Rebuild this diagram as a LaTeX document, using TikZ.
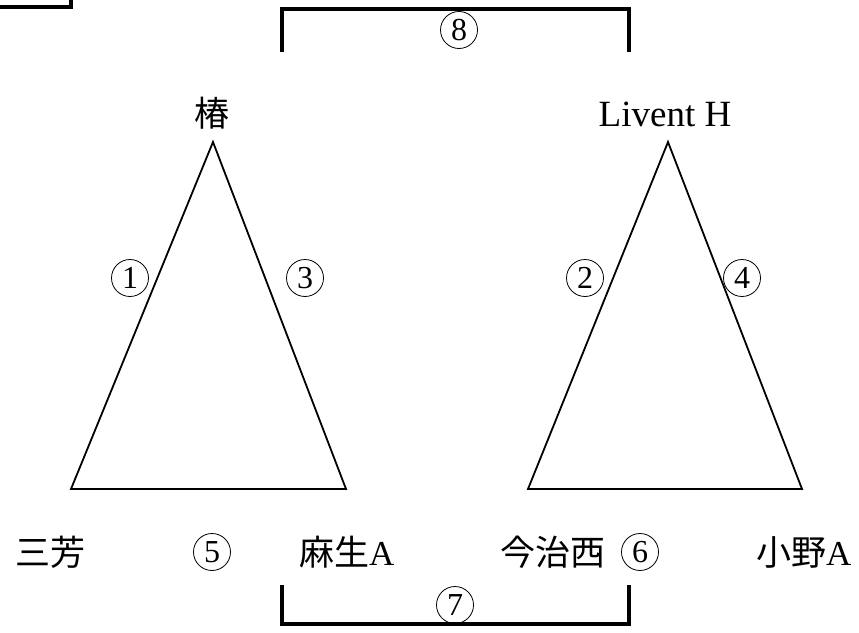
\documentclass[tikz,border=0pt]{standalone}
\usepackage{fontspec}
\setmainfont{Liberation Serif}
\newfontfamily\cjk{Noto Sans CJK JP}
\begin{document}
\begin{tikzpicture}[x=1pt,y=-1pt,
  lab/.style={inner sep=0pt,font=\fontsize{37}{40}\selectfont},
  jlab/.style={inner sep=0pt,font=\cjk\fontsize{35}{38}\selectfont},
  cnum/.style={circle,draw,line width=0.8pt,minimum size=37pt,inner sep=0pt,
    font=\fontsize{32}{34}\selectfont},
  tri/.style={line width=1.8pt,line join=miter},
  brk/.style={line width=3.2pt}]
\useasboundingbox (0,0) rectangle (859,632);
% partial box in corner
\draw[brk] (0,7) -- (71,7) -- (71,-2);
% left triangle
\coordinate (A) at (213,142);
\coordinate (B) at (71,489);
\coordinate (C) at (346,489);
\draw[tri] (A) -- (B) -- (C) -- cycle;
% right triangle
\coordinate (D) at (668,142);
\coordinate (E) at (528,489);
\coordinate (F) at (802,489);
\draw[tri] (D) -- (E) -- (F) -- cycle;
% labels
\node[jlab] (tsubaki) at (212,113) {椿};
\node[lab] (livent) at (665,114) {Livent H};
\node[cnum] (n1) at (130,278) {1};
\node[cnum] (n3) at (305,278) {3};
\node[cnum] (n2) at (585,278) {2};
\node[cnum] (n4) at (742,278) {4};
\node[jlab] (miyoshi) at (50,552) {三芳};
\node[cnum] (n5) at (212,552) {5};
\node[jlab,anchor=west] (aso) at (299,552) {麻生\fontspec{Liberation Serif}A};
\node[jlab] (imabari) at (553,552) {今治西};
\node[cnum] (n6) at (640,552) {6};
\node[jlab,anchor=west] (ono) at (756,552) {小野\fontspec{Liberation Serif}A};
\node[cnum] (n8) at (459,30) {8};
\node[cnum] (n7) at (455,605) {7};
% brackets
\coordinate (t1) at (282,52);
\coordinate (t2) at (282,9);
\coordinate (t3) at (629,9);
\coordinate (t4) at (629,52);
\draw[brk] (t1) -- (t2) -- (t3) -- (t4);
\coordinate (b1) at (282,585);
\coordinate (b2) at (282,624);
\coordinate (b3) at (629,624);
\coordinate (b4) at (629,585);
\draw[brk] (b1) -- (b2) -- (b3) -- (b4);
\end{tikzpicture}
\end{document}
